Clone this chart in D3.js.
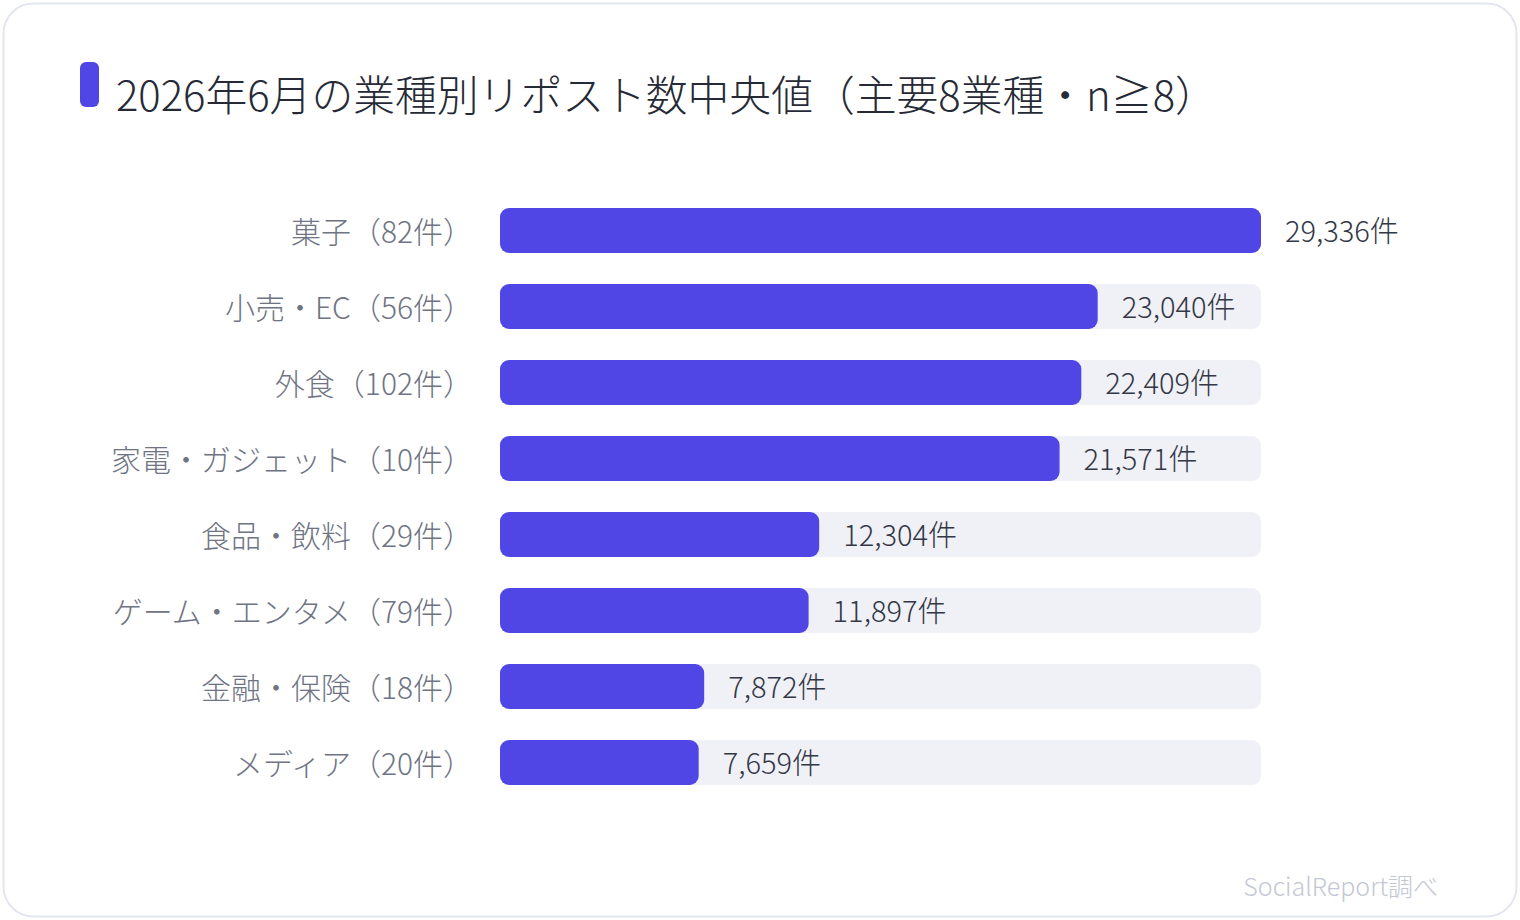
<!DOCTYPE html>
<html>
<head>
<meta charset="utf-8">
<script src="https://cdn.jsdelivr.net/npm/d3@7"></script>
<style>
  html, body { margin: 0; padding: 0; background: #ffffff; }
  svg { display: block; font-family: "Noto Sans CJK JP", "Noto Sans", sans-serif; }
</style>
</head>
<body>
<svg id="chart"></svg>
<script>
// data
const categories = ["菓子", "小売・EC", "外食", "家電・ガジェット", "食品・飲料", "ゲーム・エンタメ", "金融・保険", "メディア"];
const counts = [82, 56, 102, 10, 29, 79, 18, 20];
const medians = [29336, 23040, 22409, 21571, 12304, 11897, 7872, 7659];
const titleText = "2026年6月の業種別リポスト数中央値（主要8業種・n≧8）";
const sourceText = "SocialReport調べ";

const width = 1520;
const height = 920;
const accent = "#4f46e5";

const svg = d3.select("#chart")
    .attr("width", width)
    .attr("height", height);

// card
svg.append("rect")
    .attr("x", 3.5).attr("y", 3.5)
    .attr("width", width - 7).attr("height", height - 7)
    .attr("rx", 30)
    .attr("fill", "#ffffff")
    .attr("stroke", "#e3e6ef")
    .attr("stroke-width", 2);

// title
svg.append("rect")
    .attr("x", 80).attr("y", 62)
    .attr("width", 19).attr("height", 45)
    .attr("rx", 6)
    .attr("fill", accent);

svg.append("text")
    .attr("x", 116).attr("y", 111)
    .attr("font-size", 41.8)
    .attr("font-weight", 300)
    .attr("fill", "#262a36")
    .text(titleText);

const rows = categories.map((c, i) => ({ name: c, n: counts[i], value: medians[i] }));

const scaleY = d3.scaleBand()
    .domain(categories)
    .range([208 - 15.5, 208 + 76 * 8 - 15.5])
    .paddingInner(31 / 76)
    .paddingOuter(15.5 / 76);

const scaleX = d3.scaleLinear()
    .domain([0, d3.max(medians)])
    .range([500, 1261]);

const g = svg.append("g");

// tracks
g.selectAll(".track")
    .data(rows)
    .enter()
    .append("rect")
    .attr("class", "track")
    .attr("x", scaleX(0))
    .attr("y", d => scaleY(d.name))
    .attr("width", scaleX.range()[1] - scaleX(0))
    .attr("height", scaleY.bandwidth())
    .attr("rx", 9)
    .attr("fill", "#f0f1f7");

// bars
g.selectAll(".bar")
    .data(rows)
    .enter()
    .append("rect")
    .attr("class", "bar")
    .attr("x", scaleX(0))
    .attr("y", d => scaleY(d.name))
    .attr("width", d => scaleX(d.value) - scaleX(0))
    .attr("height", scaleY.bandwidth())
    .attr("rx", 9)
    .attr("fill", accent);

// category labels
g.selectAll(".label")
    .data(rows)
    .enter()
    .append("text")
    .attr("class", "label")
    .attr("x", 473)
    .attr("y", d => scaleY(d.name) + scaleY.bandwidth() / 2)
    .attr("dy", "0.4em")
    .attr("text-anchor", "end")
    .attr("font-size", 30)
    .attr("font-weight", 300)
    .attr("fill", "#6f7484")
    .text(d => `${d.name}（${d.n}件）`);

// value labels
g.selectAll(".value")
    .data(rows)
    .enter()
    .append("text")
    .attr("class", "value")
    .attr("x", d => scaleX(d.value) + 24)
    .attr("y", d => scaleY(d.name) + scaleY.bandwidth() / 2)
    .attr("dy", "0.4em")
    .attr("font-size", 29)
    .attr("font-weight", 300)
    .attr("fill", "#333846")
    .text(d => d3.format(",")(d.value) + "件");

// source
svg.append("text")
    .attr("x", 1438).attr("y", 896)
    .attr("text-anchor", "end")
    .attr("font-size", 25)
    .attr("font-weight", 300)
    .attr("fill", "#c3c7d3")
    .text(sourceText);
</script>
</body>
</html>
